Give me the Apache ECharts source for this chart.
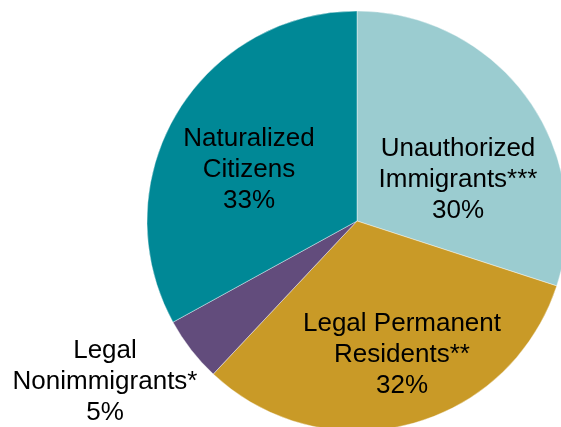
<!DOCTYPE html>
<html>
<head>
<meta charset="utf-8">
<script src="https://cdn.jsdelivr.net/npm/echarts@6/dist/echarts.min.js"></script>
<style>
  html, body { margin: 0; padding: 0; background: #fff; }
  #chart { width: 561px; height: 427px; }
</style>
</head>
<body>
<div id="chart"></div>
<script>
const categories = ['Unauthorized\nImmigrants***', 'Legal Permanent\nResidents**', 'Legal\nNonimmigrants*', 'Naturalized\nCitizens']
const shares = [30, 32, 5, 33]
const colors = ['#9bccd0', '#c99a27', '#624c7c', '#008896']
// label centres, px
const labelPos = [[458, 180], [402, 355], [105, 382], [249, 170]]

const chart = echarts.init(document.getElementById('chart'))
chart.setOption({
  animation: false,
  series: [{
    type: 'pie',
    center: [357, 221],
    radius: [0, 210],
    startAngle: 90,
    clockwise: true,
    data: categories.map((name, i) => ({
      name,
      value: shares[i],
      itemStyle: { color: colors[i] },
    })),
    itemStyle: { borderColor: '#fff', borderWidth: 0.4 },
    label: {
      position: 'inside',
      formatter: '{b}\n{c}%',
      fontFamily: 'Liberation Sans, Arial, sans-serif',
      fontSize: 26,
      lineHeight: 31,
      color: '#000',
      align: 'center',
    },
    labelLine: { show: false },
    labelLayout: (p) => ({
      x: labelPos[p.dataIndex][0],
      y: labelPos[p.dataIndex][1],
      align: 'center',
      verticalAlign: 'middle',
    }),
    emphasis: { disabled: true },
  }],
})
window.addEventListener('resize', () => chart.resize())
</script>
</body>
</html>
